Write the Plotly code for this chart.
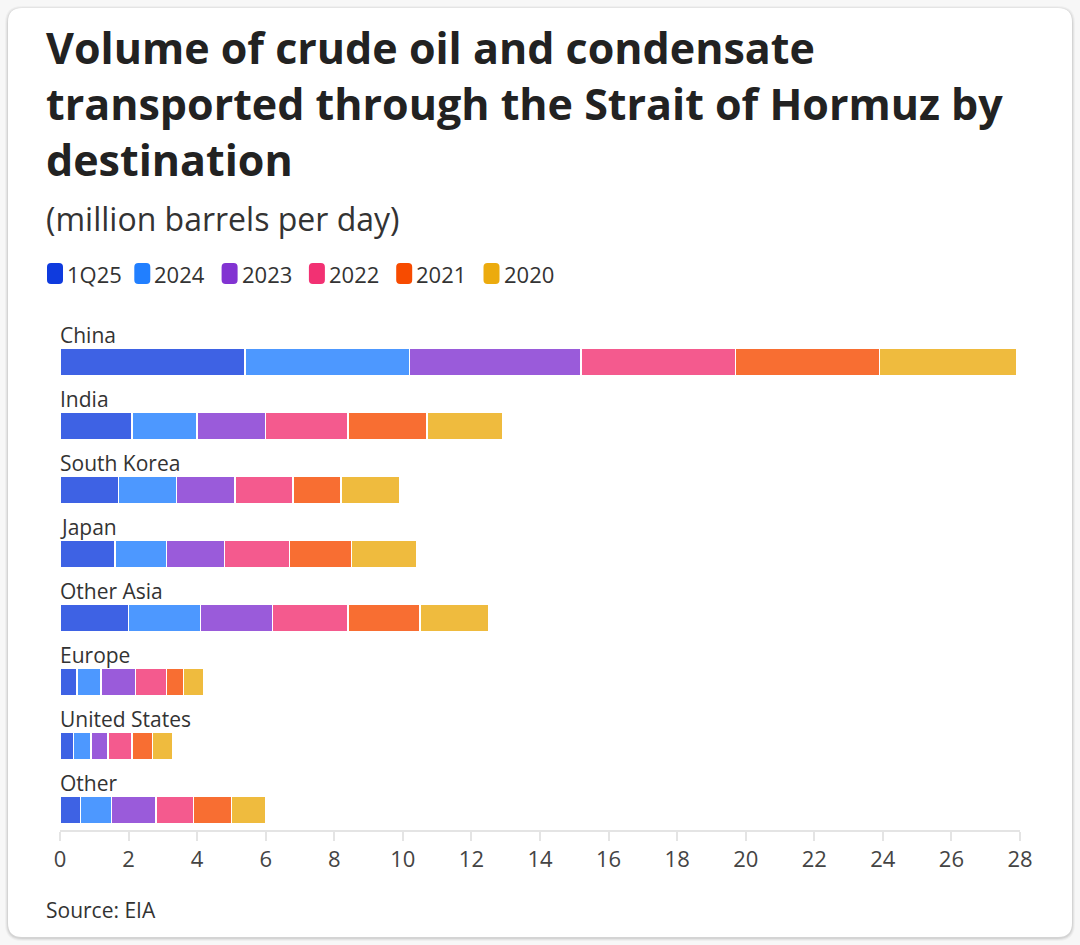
import plotly.graph_objects as go

# ---------------- data ----------------
categories = ["China", "India", "South Korea", "Japan", "Other Asia",
              "Europe", "United States", "Other"]
series_names = ["1Q25", "2024", "2023", "2022", "2021", "2020"]
v_1q25 = [5.4, 2.1, 1.7, 1.6, 2.0, 0.5, 0.4, 0.6]
v_2024 = [4.8, 1.9, 1.7, 1.5, 2.1, 0.7, 0.5, 0.9]
v_2023 = [5.0, 2.0, 1.7, 1.7, 2.1, 1.0, 0.5, 1.3]
v_2022 = [4.5, 2.4, 1.7, 1.9, 2.2, 0.9, 0.7, 1.1]
v_2021 = [4.2, 2.3, 1.4, 1.8, 2.1, 0.5, 0.6, 1.1]
v_2020 = [4.0, 2.2, 1.7, 1.9, 2.0, 0.6, 0.6, 1.0]
series_values = [v_1q25, v_2024, v_2023, v_2022, v_2021, v_2020]
x_ticks = list(range(0, 29, 2))

title_lines = ["Volume of crude oil and condensate",
               "transported through the Strait of Hormuz by",
               "destination"]
subtitle_text = "(million barrels per day)"
source_text = "Source: EIA"

# ---------------- style ----------------
colors = ["#0f3bde", "#217fff", "#8233d2", "#f23173", "#f74b00", "#ecab0e"]
W, H = 1080, 945
ML, MR, MT, MB = 60, 60, 318, 115
PW, PH = W - ML - MR, H - MT - MB
FONT = "Open Sans"


def px_x(px):
    return (px - ML) / PW


def px_y(py):
    return (H - MB - py) / PH


def rrect(x0, y0, x1, y1, r):
    X0, X1 = px_x(x0), px_x(x1)
    Y0, Y1 = px_y(y0), px_y(y1)
    rx, ry = r / PW, r / PH
    return (f"M {X0+rx},{Y0} L {X1-rx},{Y0} Q {X1},{Y0} {X1},{Y0-ry} "
            f"L {X1},{Y1+ry} Q {X1},{Y1} {X1-rx},{Y1} L {X0+rx},{Y1} "
            f"Q {X0},{Y1} {X0},{Y1+ry} L {X0},{Y0-ry} Q {X0},{Y0} {X0+rx},{Y0} Z")


fig = go.Figure()
for name, vals, col in zip(series_names, series_values, colors):
    fig.add_trace(go.Bar(
        y=categories, x=vals, name=name, orientation="h",
        marker=dict(color=col, opacity=0.8, line=dict(color="white", width=1.5)),
        showlegend=False, hovertemplate="%{y}: %{x}<extra>" + name + "</extra>",
    ))

shapes = []
# card shadow + card
for i, a in enumerate([0.03, 0.045, 0.065]):
    d = 3 - i
    shapes.append(dict(type="path", xref="paper", yref="paper", layer="below",
                       path=rrect(8 - d, 8 - d + 1, 1072 + d, 937 + d + 1, 14 + d),
                       fillcolor=f"rgba(0,0,0,{a})", line=dict(width=0)))
shapes.append(dict(type="path", xref="paper", yref="paper", layer="below",
                   path=rrect(8, 8, 1072, 937, 14),
                   fillcolor="white", line=dict(width=0)))

annotations = []
# legend (manual)
lx = 47
for name, col in zip(series_names, colors):
    shapes.append(dict(type="path", xref="paper", yref="paper",
                       path=rrect(lx, 263, lx + 16, 284, 4),
                       fillcolor=col, line=dict(width=0)))
    annotations.append(dict(text=name, xref="paper", yref="paper",
                            x=px_x(lx + 18), y=px_y(273.5), xanchor="left",
                            yanchor="middle", showarrow=False,
                            font=dict(family=FONT, size=22, color="#333333")))
    lx += 87.3

# title, subtitle, source
annotations.append(dict(text="<b>" + "<br>".join(title_lines) + "</b>",
                        xref="paper", yref="paper",
                        x=px_x(44), y=px_y(16), xanchor="left", yanchor="top",
                        align="left", showarrow=False,
                        font=dict(family=FONT, size=43, color="#222222")))
annotations.append(dict(text=subtitle_text, xref="paper", yref="paper",
                        x=px_x(44), y=px_y(218), xanchor="left", yanchor="middle",
                        showarrow=False, font=dict(family=FONT, size=32, color="#333333")))
annotations.append(dict(text=source_text, xref="paper", yref="paper",
                        x=px_x(44), y=px_y(910), xanchor="left", yanchor="middle",
                        showarrow=False, font=dict(family=FONT, size=21, color="#333333")))

# category labels above bars
for c in categories:
    annotations.append(dict(text=c, x=0, y=c, xref="x", yref="y",
                            xanchor="left", yanchor="middle", yshift=27, xshift=-2,
                            showarrow=False,
                            font=dict(family=FONT, size=21, color="#333333")))

fig.update_layout(
    width=W, height=H, autosize=False,
    margin=dict(l=ML, r=MR, t=MT, b=MB),
    paper_bgcolor="#f7f7f7", plot_bgcolor="rgba(0,0,0,0)",
    barmode="stack", bargap=0.58,
    shapes=shapes, annotations=annotations,
    font=dict(family=FONT, color="#333333"),
    xaxis=dict(range=[0, 28], tickvals=x_ticks, showgrid=False, zeroline=False,
               showline=True, linecolor="#e4e4e4", linewidth=2,
               ticks="outside", ticklen=9, tickwidth=2, tickcolor="#e4e4e4",
               tickfont=dict(family=FONT, size=22, color="#444444"), fixedrange=True),
    yaxis=dict(categoryorder="array", categoryarray=categories,
               range=[7.31, -0.69], showticklabels=False, showgrid=False,
               zeroline=False, showline=False, fixedrange=True),
)

fig.write_html(
    "out.html",
    config={"displayModeBar": False},
    post_script="document.body.style.margin='0';document.body.style.overflow='hidden';"
                "document.body.style.background='#f7f7f7';",
)
